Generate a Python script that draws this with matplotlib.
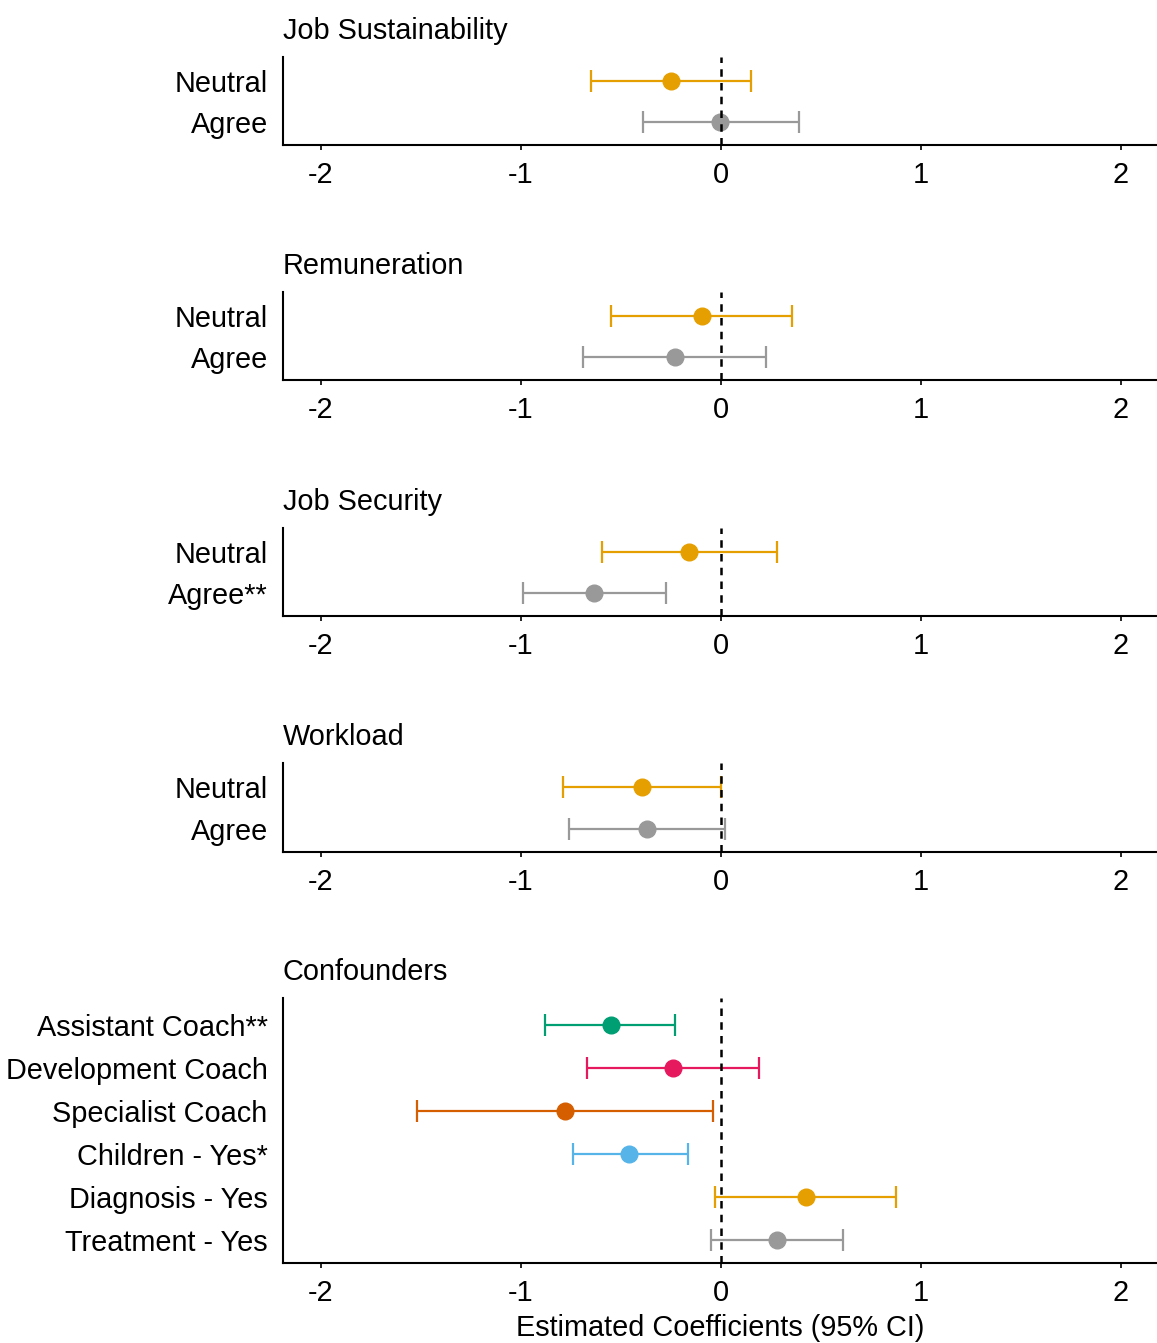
import numpy as np
import matplotlib.pyplot as plt

plt.rcParams['font.family'] = ['Liberation Sans', 'DejaVu Sans']

ORANGE = "#E69F00"
GREY = "#999999"

# each panel: title, row labels (top to bottom), estimate, lower CI, upper CI, colours
panel_titles = ["Job Sustainability", "Remuneration", "Job Security", "Workload", "Confounders"]

sustain_labels = ["Neutral", "Agree"]
sustain_est = [-0.25, -0.005]
sustain_lo = [-0.65, -0.39]
sustain_hi = [0.15, 0.39]

remun_labels = ["Neutral", "Agree"]
remun_est = [-0.095, -0.23]
remun_lo = [-0.55, -0.69]
remun_hi = [0.355, 0.225]

security_labels = ["Neutral", "Agree**"]
security_est = [-0.16, -0.635]
security_lo = [-0.595, -0.99]
security_hi = [0.28, -0.275]

workload_labels = ["Neutral", "Agree"]
workload_est = [-0.395, -0.37]
workload_lo = [-0.79, -0.76]
workload_hi = [0.0, 0.02]

conf_labels = ["Assistant Coach**", "Development Coach", "Specialist Coach",
               "Children - Yes*", "Diagnosis - Yes", "Treatment - Yes"]
conf_est = [-0.55, -0.24, -0.78, -0.46, 0.425, 0.28]
conf_lo = [-0.88, -0.67, -1.52, -0.74, -0.03, -0.05]
conf_hi = [-0.23, 0.19, -0.04, -0.165, 0.875, 0.61]
conf_colors = ["#009E73", "#E6195E", "#D55E00", "#56B4E9", ORANGE, GREY]

panels = [
    (sustain_labels, sustain_est, sustain_lo, sustain_hi, [ORANGE, GREY]),
    (remun_labels, remun_est, remun_lo, remun_hi, [ORANGE, GREY]),
    (security_labels, security_est, security_lo, security_hi, [ORANGE, GREY]),
    (workload_labels, workload_est, workload_lo, workload_hi, [ORANGE, GREY]),
    (conf_labels, conf_est, conf_lo, conf_hi, conf_colors),
]

FS = 20.8
W, H = 1157, 1343
fig = plt.figure(figsize=(W / 100, H / 100), dpi=100)

# axes boxes in pixels: (top, bottom)
boxes = [(57, 145), (292, 380), (528, 616), (763, 852), (998, 1263)]
left, right = 283, 1157

for i, (title, (labels, est, lo, hi, cols), (top, bot)) in enumerate(zip(panel_titles, panels, boxes)):
    ax = fig.add_axes([left / W, 1 - bot / H, (right - left) / W, (bot - top) / H])
    n = len(labels)
    ypos = np.arange(n, 0, -1)
    for y, e, l, h, c in zip(ypos, est, lo, hi, cols):
        ax.errorbar(e, y, xerr=[[e - l], [h - e]], fmt='o', color=c, ecolor=c,
                    markersize=12, elinewidth=1.6, capsize=8, capthick=1.6, zorder=3)
    ax.axvline(0, color='black', linestyle=(0, (3, 2.5)), linewidth=1.8, zorder=4)
    ax.set_xlim(-2.19, 2.18)
    if n == 2:
        ax.set_ylim(0.44, 2.585)
    else:
        ax.set_ylim(0.465, 6.63)
    ax.set_yticks(ypos)
    ax.set_yticklabels(labels)
    ax.set_xticks([-2, -1, 0, 1, 2])
    ax.set_xticklabels(["-2", "-1", "0", "1", "2"])
    ax.tick_params(axis='y', length=0, pad=11, labelsize=FS)
    ax.tick_params(axis='x', length=3.5, width=1.2, pad=8, labelsize=FS)
    for s in ['top', 'right']:
        ax.spines[s].set_visible(False)
    for s in ['left', 'bottom']:
        ax.spines[s].set_linewidth(1.5)
    ax.set_title(title, loc='left', fontsize=FS, pad=13)
    if i == len(panels) - 1:
        ax.set_xlabel("Estimated Coefficients (95% CI)", fontsize=FS, labelpad=5)

fig.savefig("out.png", dpi=100, facecolor='white')
